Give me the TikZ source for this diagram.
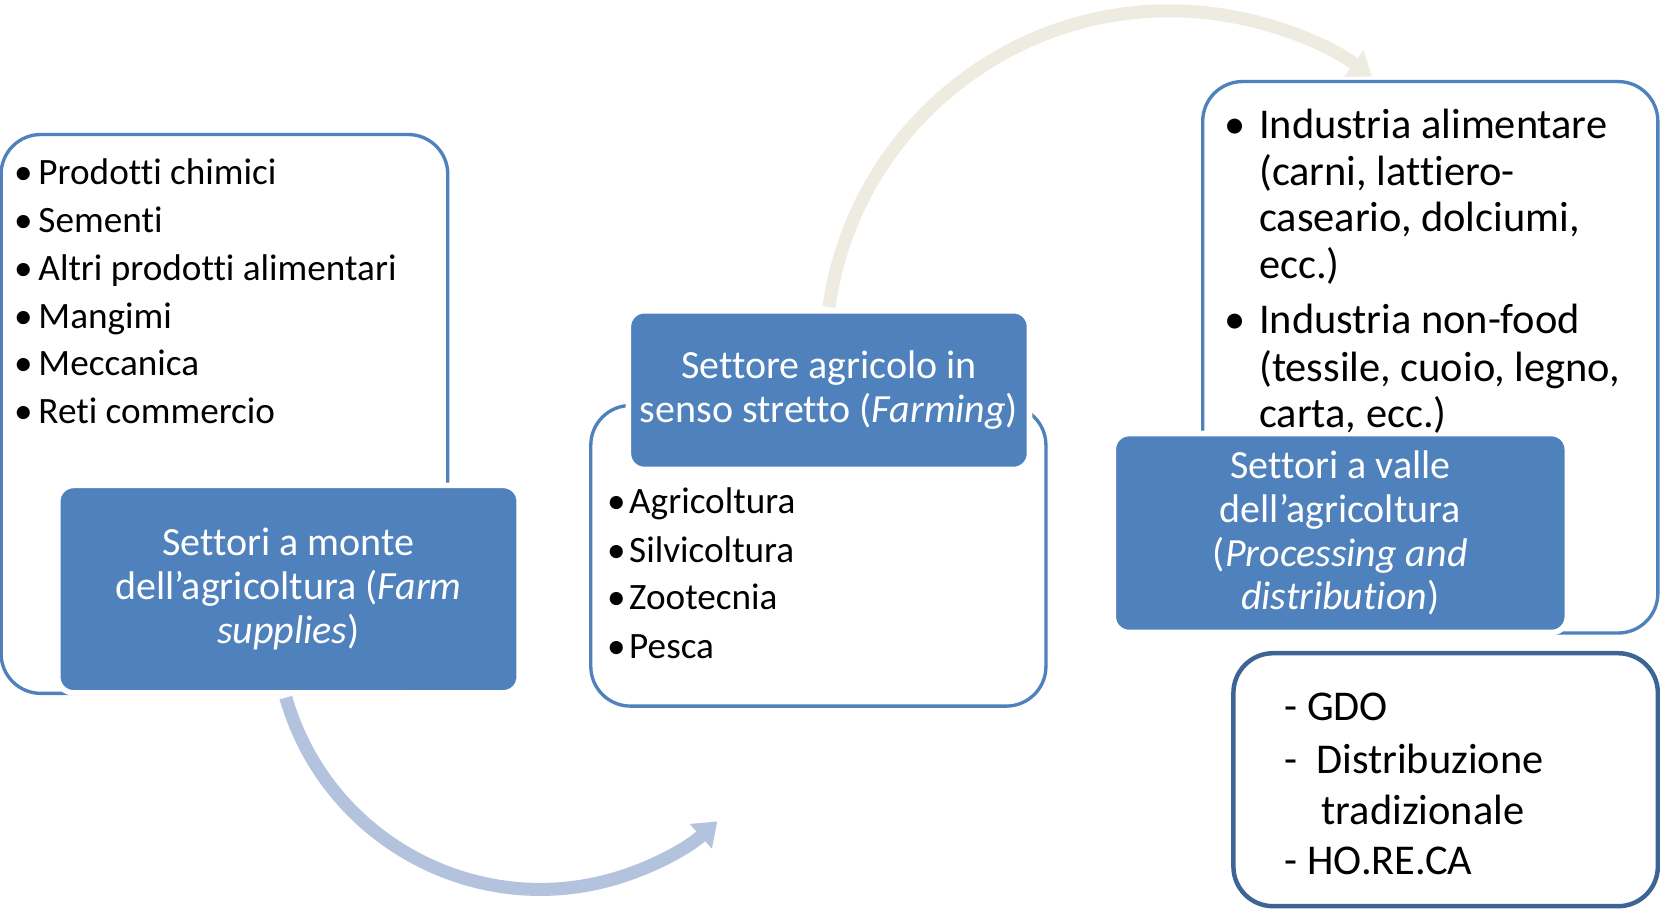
\documentclass[tikz,border=0pt]{standalone}
\usepackage{fontspec}
\setmainfont[Ligatures=NoCommon]{Carlito}
\usetikzlibrary{arrows.meta}
\definecolor{boxblue}{HTML}{4F81BD}
\definecolor{darkblue}{HTML}{3C6495}
\definecolor{arrowblue}{HTML}{B3C3DD}
\definecolor{arrowsand}{HTML}{EEECE1}
\newcommand{\bul}[1]{\makebox[#1][l]{\textbullet}}

\begin{document}
\begin{tikzpicture}[x=0.02cm,y=0.02cm]
	\tikzstyle{panel}=[draw=boxblue, line width=1.8pt, fill=white, rounded corners=0.75cm]
	\tikzstyle{title}=[fill=boxblue, draw=white, line width=3pt, rounded corners=0.3cm, text=white, align=center, font=\fontsize{21.5}{23.5}\selectfont]
	\tikzstyle{item}=[anchor=base west, inner sep=0pt, font=\fontsize{20}{24}\selectfont]
	\tikzstyle{bigitem}=[item, font=\fontsize{22.8}{26}\selectfont]
	\tikzstyle{cycle}=[line width=7pt, -{Triangle[width=17pt,length=12pt]}]

	\useasboundingbox (0,0) rectangle (1568,858);

	% circular arrows, behind the boxes
	\coordinate (arcA) at (270,199);
	\coordinate (arcB) at (783,568);
	\draw[cycle, arrowblue] (arcA) arc[start angle=196, end angle=312, radius=250];
	\draw[cycle, arrowsand] (arcB) arc[start angle=172, end angle=54, radius=325];

	% white panels
	\node[panel, minimum width=8.44cm, minimum height=10.56cm] (supplyPanel) at (212,467) {};
	\node[panel, minimum width=8.6cm, minimum height=5.68cm] (farmPanel) at (773,333) {};
	\node[panel, minimum width=8.6cm, minimum height=10.42cm] (procPanel) at (1351,520.5) {};
	\node[panel, draw=darkblue, line width=2.4pt, minimum width=8.02cm, minimum height=4.78cm] (distPanel) at (1365.5,121.5) {};

	% blue titles
	\node[title, minimum width=8.72cm, minimum height=3.92cm] (supply) at (272.5,301.5)
		{Settori a monte\\dell’agricoltura (\textit{Farm}\\\textit{supplies})};
	\node[title, minimum width=7.58cm, minimum height=3.0cm] (farm) at (783,489.5)
		{Settore agricolo in\\senso stretto (\textit{Farming})};
	\node[title, minimum width=8.58cm, minimum height=3.76cm] (proc) at (1266,354.5)
		{Settori a valle\\dell’agricoltura\\(\textit{Processing and}\\\textit{distribution})};

	% farm supplies
	\node[item] (s1) at (13,684) {\bul{0.46cm}Prodotti chimici};
	\node[item] (s2) at (13,638) {\bul{0.46cm}Sementi};
	\node[item] (s3) at (13,593) {\bul{0.46cm}Altri prodotti alimentari};
	\node[item] (s4) at (13,548) {\bul{0.46cm}Mangimi};
	\node[item] (s5) at (13,503) {\bul{0.46cm}Meccanica};
	\node[item] (s6) at (13,458) {\bul{0.46cm}Reti commercio};

	% farming
	\node[item] (f1) at (573,373) {\bul{0.42cm}Agricoltura};
	\node[item] (f2) at (573,327) {\bul{0.42cm}Silvicoltura};
	\node[item] (f3) at (573,282) {\bul{0.42cm}Zootecnia};
	\node[item] (f4) at (573,236) {\bul{0.42cm}Pesca};

	% processing
	\node[bigitem] (p1) at (1156,727) {\bul{0.66cm}Industria alimentare};
	\node[bigitem] (p2) at (1189,683) {(carni, lattiero-};
	\node[bigitem] (p3) at (1189,639) {caseario, dolciumi,};
	\node[bigitem] (p4) at (1189,595) {ecc.)};
	\node[bigitem] (p5) at (1156,543) {\bul{0.66cm}Industria non-food};
	\node[bigitem] (p6) at (1189,498) {(tessile, cuoio, legno,};
	\node[bigitem] (p7) at (1189,454) {carta, ecc.)};

	% distribution
	\node[bigitem] (d1) at (1213,177) {- GDO};
	\node[bigitem] (d2) at (1213,127) {\makebox[0.6cm][l]{-}Distribuzione};
	\node[bigitem] (d3) at (1248,79) {tradizionale};
	\node[bigitem] (d4) at (1213,32) {- HO.RE.CA};
\end{tikzpicture}
\end{document}
